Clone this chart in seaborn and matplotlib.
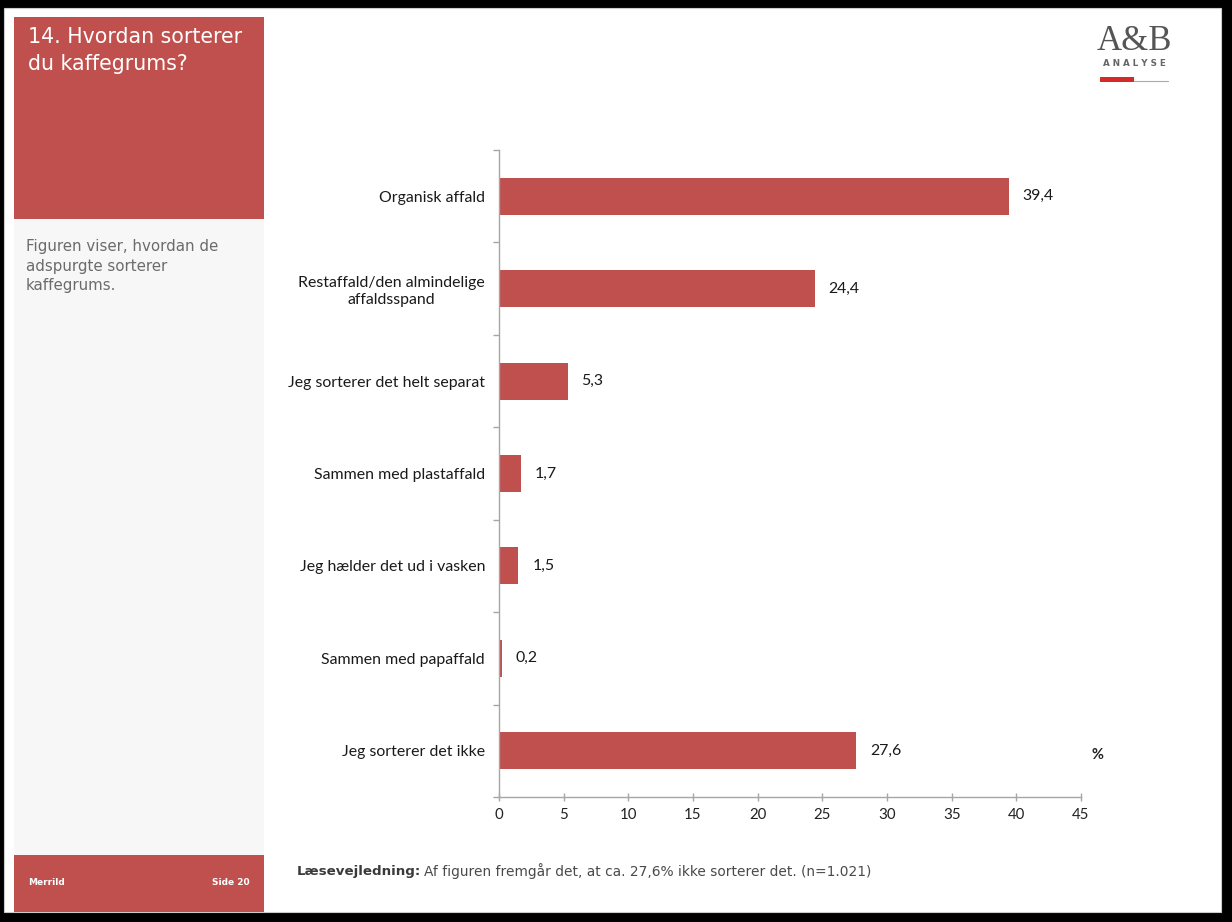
import numpy as np
import pandas as pd
import matplotlib
matplotlib.use("Agg")
import matplotlib.pyplot as plt
from matplotlib.patches import Rectangle
import seaborn as sns

categories = [
    "Organisk affald",
    "Restaffald/den almindelige\naffaldsspand",
    "Jeg sorterer det helt separat",
    "Sammen med plastaffald",
    "Jeg hælder det ud i vasken",
    "Sammen med papaffald",
    "Jeg sorterer det ikke",
]
values = [39.4, 24.4, 5.3, 1.7, 1.5, 0.2, 27.6]
x_ticks = [0, 5, 10, 15, 20, 25, 30, 35, 40, 45]

title_text = "14. Hvordan sorterer\ndu kaffegrums?"
subtitle_text = "Figuren viser, hvordan de\nadspurgte sorterer\nkaffegrums."
caption_bold = "Læsevejledning:"
caption_rest = "Af figuren fremgår det, at ca. 27,6% ikke sorterer det. (n=1.021)"
footer_left = "Merrild"
footer_right = "Side 20"

RED = "#c0504d"
W, H = 1232, 922

sns.set_theme(style="white")
plt.rcParams["font.family"] = ["Lato", "DejaVu Sans"]

fig = plt.figure(figsize=(W / 100, H / 100), dpi=100, facecolor="black")

# background / slide overlay in pixel coordinates
bg = fig.add_axes([0, 0, 1, 1], zorder=-5)
bg.set_xlim(0, W)
bg.set_ylim(H, 0)
bg.axis("off")
bg.add_patch(Rectangle((4, 8), 1217, 904, facecolor="white", edgecolor="#cccccc", lw=0.8))
bg.add_patch(Rectangle((14, 17), 250, 838, facecolor="#f7f7f7", edgecolor="none"))
bg.add_patch(Rectangle((14, 17), 250, 202, facecolor=RED, edgecolor="none"))
bg.add_patch(Rectangle((14, 855), 250, 57, facecolor=RED, edgecolor="none"))

bg.text(28, 27, title_text, color="white", fontsize=14.8, family=["DejaVu Sans"],
        va="top", ha="left", linespacing=1.45)
bg.text(26, 239, subtitle_text, color="#6b6b6b", fontsize=10.8, family=["DejaVu Sans"],
        va="top", ha="left", linespacing=1.38)
bg.text(28, 882, footer_left, color="white", fontsize=6.5, fontweight="bold",
        family=["DejaVu Sans"], va="center", ha="left")
bg.text(250, 882, footer_right, color="white", fontsize=6.5, fontweight="bold",
        family=["DejaVu Sans"], va="center", ha="right")

bg.text(297, 871, caption_bold, color="#3a3a3a", fontsize=9.6, fontweight="bold",
        family=["DejaVu Sans"], va="center", ha="left")
bg.text(424, 871, caption_rest, color="#4a4a4a", fontsize=9.9,
        family=["DejaVu Sans"], va="center", ha="left")

# logo
bg.text(1134, 41, "A&B", color="#555555", fontsize=25, family=["Liberation Serif", "DejaVu Serif"],
        va="center", ha="center")
bg.text(1134, 64, "A N A L Y S E", color="#666666", fontsize=6.3, fontweight="bold",
        family=["DejaVu Sans"], va="center", ha="center")
bg.add_patch(Rectangle((1100, 77), 34, 5, facecolor="#d42a2a", edgecolor="none"))
bg.plot([1134, 1168], [81.5, 81.5], color="#aaaaaa", lw=0.8)

bg.text(1097, 755, "%", color="#222222", fontsize=10.5, fontweight="bold",
        va="center", ha="center")

# chart axes
left, right, top, bottom = 499, 1081, 150, 797
ax = fig.add_axes([left / W, (H - bottom) / H, (right - left) / W, (bottom - top) / H])
ax.set_facecolor("none")

df = pd.DataFrame({"category": categories, "value": values})
sns.barplot(data=df, x="value", y="category", orient="h", color=RED,
            saturation=1, width=0.4, ax=ax, edgecolor="none")

ax.set_xlim(0, 45)
ax.set_ylim(6.5, -0.5)
ax.set_xticks(x_ticks)
ax.set_xticklabels([str(t) for t in x_ticks])
ax.set_xlabel("")
ax.set_ylabel("")

for side in ["top", "right"]:
    ax.spines[side].set_visible(False)
for side in ["left", "bottom"]:
    ax.spines[side].set_color("#a6a6a6")
    ax.spines[side].set_linewidth(1.0)

ax.tick_params(axis="x", which="major", direction="inout", length=6, width=1,
               color="#a6a6a6", labelsize=10.8, labelcolor="#222222", pad=5, bottom=True)
ax.tick_params(axis="y", which="major", length=0, labelsize=11.4, labelcolor="#1a1a1a", pad=10)
ax.set_yticks(np.arange(-0.5, 7, 1), minor=True)
ax.tick_params(axis="y", which="minor", direction="out", length=4, width=1,
               color="#a6a6a6", left=True)
for lbl in ax.get_yticklabels():
    lbl.set_multialignment("center")
    lbl.set_linespacing(1.3)

for cont in ax.containers:
    ax.bar_label(cont, labels=[f"{v:.1f}".replace(".", ",") for v in values],
                 padding=10, fontsize=11.4, color="#1a1a1a")

ax.grid(False)

fig.savefig("out.png", dpi=100, facecolor="black")
